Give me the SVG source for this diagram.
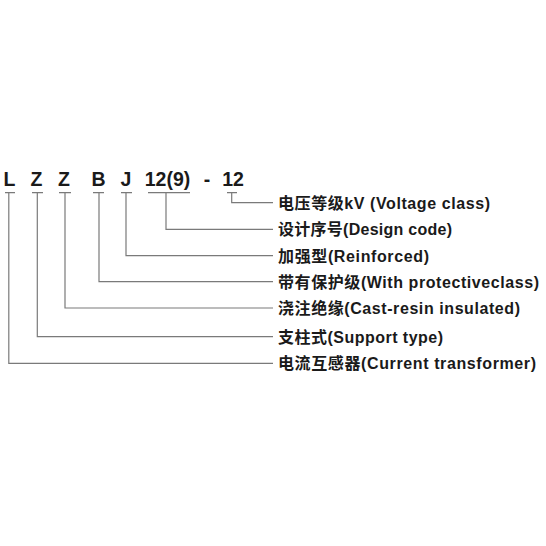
<svg xmlns="http://www.w3.org/2000/svg" width="546" height="546" viewBox="0 0 546 546">
<style>
.code{font-family:"Liberation Sans",Arial,sans-serif;font-weight:bold;font-size:19.5px;fill:#1a1a1a;text-anchor:middle}
.lbl{font-family:"Liberation Sans","Noto Sans CJK SC",sans-serif;font-weight:bold;font-size:16px;fill:#1a1a1a}
.ln{fill:none;stroke:#7a7a7a;stroke-width:1.2}
</style>
<rect width="546" height="546" fill="#ffffff"/>
<g id="code">
<text class="code" x="9.5" y="186">L</text>
<text class="code" x="36.5" y="186">Z</text>
<text class="code" x="64" y="186">Z</text>
<text class="code" x="98.5" y="186">B</text>
<text class="code" x="126" y="186">J</text>
<text class="code" x="167.5" y="186">12(9)</text>
<text class="code" x="207" y="186">-</text>
<text class="code" x="233" y="186">12</text>
</g>
<g id="connectors">
<path class="ln" d="M227 192.7H237M231.7 192.7V202.7H273"/>
<path class="ln" d="M148 192.7H190M166 192.7V229.3H273"/>
<path class="ln" d="M121 192.7H132M126 192.7V255.7H273"/>
<path class="ln" d="M93 192.7H104M99 192.7V281.7H273"/>
<path class="ln" d="M59 192.7H71M65 192.7V308H273"/>
<path class="ln" d="M32 192.7H43M37.3 192.7V336.7H273"/>
<path class="ln" d="M5 192.7H15M8.8 192.7V363.3H273"/>
</g>
<g id="label-voltage"><text class="lbl" x="278" y="208.5" textLength="212" lengthAdjust="spacing">电压等级kV (Voltage class)</text></g>
<g id="label-design"><text class="lbl" x="278" y="235" textLength="174" lengthAdjust="spacing">设计序号(Design code)</text></g>
<g id="label-reinforced"><text class="lbl" x="278" y="261.5" textLength="151" lengthAdjust="spacing">加强型(Reinforced)</text></g>
<g id="label-protective"><text class="lbl" x="278" y="287.5" textLength="261" lengthAdjust="spacing">带有保护级(With protectiveclass)</text></g>
<g id="label-cast"><text class="lbl" x="278" y="314" textLength="242" lengthAdjust="spacing">浇注绝缘(Cast-resin insulated)</text></g>
<g id="label-support"><text class="lbl" x="278" y="342.5" textLength="165" lengthAdjust="spacing">支柱式(Support type)</text></g>
<g id="label-ct"><text class="lbl" x="278" y="369" textLength="258" lengthAdjust="spacing">电流互感器(Current transformer)</text></g>
</svg>
